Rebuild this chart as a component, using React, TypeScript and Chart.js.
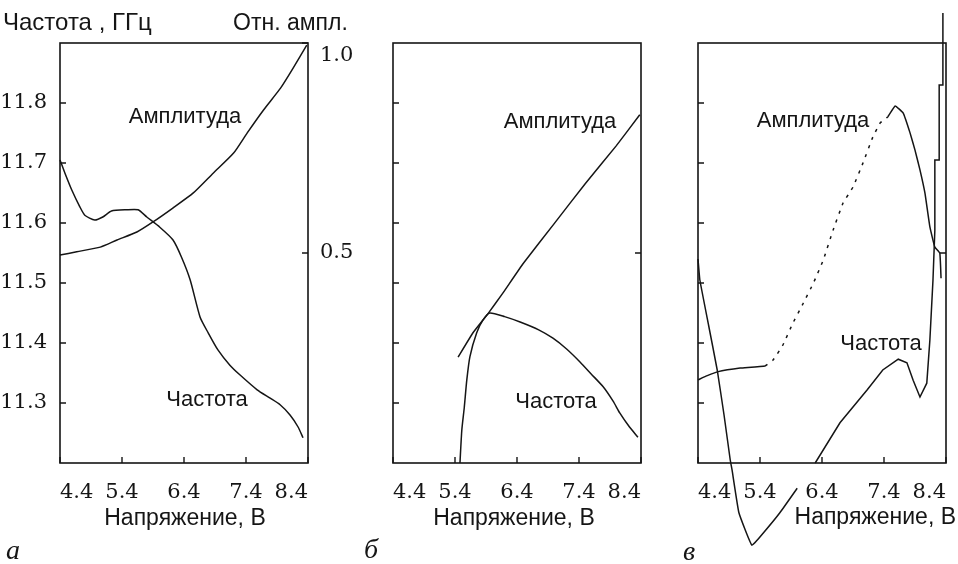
import React, { useEffect, useRef } from 'react';
import { Chart, registerables } from 'chart.js';

Chart.register(...registerables);

// ---------- shared axes ----------
const xTicks = [4.4, 5.4, 6.4, 7.4, 8.4];
const freqTicks = [11.3, 11.4, 11.5, 11.6, 11.7, 11.8];
const ampTicksA = [0.5, 1.0];
const ampTicksBC = [0.5];

// ---------- panel а ----------
const aFreqV = [4.4, 4.48, 4.59, 4.72, 4.8, 4.96, 5.09, 5.23, 5.47, 5.66, 5.8, 6.01, 6.22, 6.36, 6.5, 6.66, 6.79, 6.95, 7.14, 7.3, 7.58, 7.79, 7.95, 8.11, 8.24, 8.32];
const aFreqF = [11.705, 11.683, 11.655, 11.627, 11.613, 11.605, 11.61, 11.62, 11.622, 11.622, 11.61, 11.593, 11.572, 11.543, 11.505, 11.443, 11.417, 11.388, 11.363, 11.347, 11.322, 11.308, 11.297, 11.28, 11.26, 11.242];
const aAmpV = [4.4, 4.67, 5.05, 5.32, 5.64, 5.9, 6.22, 6.55, 6.87, 7.2, 7.42, 7.68, 7.96, 8.16, 8.38];
const aAmpA = [0.495, 0.503, 0.514, 0.531, 0.55, 0.574, 0.607, 0.643, 0.69, 0.738, 0.786, 0.84, 0.893, 0.94, 0.995];

// ---------- panel б ----------
const bFreqV = [5.48, 5.51, 5.55, 5.59, 5.64, 5.75, 5.85, 5.96, 6.2, 6.45, 6.75, 6.98, 7.2, 7.42, 7.6, 7.79, 7.95, 8.06, 8.2, 8.35];
const bFreqF = [11.2, 11.255, 11.293, 11.338, 11.377, 11.417, 11.438, 11.45, 11.444, 11.435, 11.422, 11.408, 11.39, 11.368, 11.348, 11.327, 11.303, 11.283, 11.262, 11.243];
const bAmpV = [5.45, 5.69, 5.93, 6.16, 6.5, 7.0, 7.5, 8.0, 8.38];
const bAmpA = [0.252, 0.31, 0.355, 0.402, 0.475, 0.57, 0.665, 0.755, 0.829];

// ---------- panel в ----------
const cFreq1V = [4.4, 4.43, 4.57, 4.71, 4.82, 4.92, 4.95, 5.06, 5.27, 5.45, 5.72, 6.0];
const cFreq1F = [11.54, 11.505, 11.43, 11.355, 11.28, 11.205, 11.188, 11.117, 11.063, 11.083, 11.117, 11.158];
const cFreq2V = [6.29, 6.69, 7.13, 7.38, 7.63, 7.77, 7.87, 7.98, 8.09, 8.14, 8.19, 8.22, 8.22, 8.29, 8.29, 8.35, 8.35];
const cFreq2F = [11.2, 11.267, 11.322, 11.355, 11.373, 11.367, 11.338, 11.31, 11.333, 11.405, 11.505, 11.588, 11.705, 11.705, 11.83, 11.83, 11.95];
const cAmpV = [4.4, 4.55, 4.71, 5.08, 5.48, 5.61, 5.77, 5.93, 6.1, 6.26, 6.42, 6.58, 6.74, 6.9, 7.06, 7.22, 7.34, 7.46, 7.58, 7.71, 7.82, 7.9, 7.98, 8.06, 8.14, 8.22, 8.3, 8.32];
const cAmpA = [0.198, 0.208, 0.217, 0.226, 0.231, 0.245, 0.281, 0.333, 0.381, 0.428, 0.483, 0.555, 0.619, 0.657, 0.714, 0.776, 0.81, 0.824, 0.85, 0.833, 0.786, 0.745, 0.698, 0.643, 0.562, 0.514, 0.5, 0.44];
const cAmpDashFrom = 5.48;
const cAmpDashTo = 7.46;

const INK = '#151515';
const SERIF = '"DejaVu Serif", "Liberation Serif", serif';
const ITALIC_SERIF = '"Liberation Serif", "DejaVu Serif", serif';
const SANS = '"Liberation Sans", Arial, sans-serif';

const W = 958;
const H = 564;
const TOP = 43;
const BOTTOM = 463;
const YW = 60;

const pts = (xs: number[], ys: number[]) => xs.map((x, i) => ({ x, y: ys[i] }));

type TextItem = { t: string; x: number; y: number; font: string; align?: CanvasTextAlign };

const decor = (texts: TextItem[]) => ({
  id: 'decor',
  afterDraw(chart: any) {
    const { ctx, chartArea: a, scales } = chart;
    ctx.save();
    ctx.strokeStyle = INK;
    ctx.lineWidth = 1.6;
    ctx.strokeRect(a.left, a.top, a.right - a.left, a.bottom - a.top);
    ctx.lineWidth = 1.4;
    ctx.beginPath();
    scales.x.ticks.forEach((t: any) => {
      const px = scales.x.getPixelForValue(t.value);
      ctx.moveTo(px, a.bottom);
      ctx.lineTo(px, a.bottom - 6);
    });
    scales.y.ticks.forEach((t: any) => {
      const py = scales.y.getPixelForValue(t.value);
      ctx.moveTo(a.left, py);
      ctx.lineTo(a.left + 6, py);
    });
    scales.y2.ticks.forEach((t: any) => {
      const py = scales.y2.getPixelForValue(t.value);
      ctx.moveTo(a.right - 6, py);
      ctx.lineTo(a.right, py);
    });
    ctx.stroke();
    ctx.fillStyle = INK;
    ctx.textBaseline = 'middle';
    texts.forEach((it) => {
      ctx.font = it.font;
      ctx.textAlign = it.align || 'center';
      ctx.fillText(it.t, it.x, it.y);
    });
    ctx.restore();
  },
});

const line = (data: any[], axis: string, extra: any = {}) => ({
  data,
  yAxisID: axis,
  showLine: true,
  pointRadius: 0,
  borderColor: INK,
  borderWidth: 1.5,
  tension: 0.2,
  clip: false,
  ...extra,
});

function makeConfig(p: {
  left: number; right: number; datasets: any[]; yLabels: boolean; ampTicks: number[]; ampLabels: boolean; texts: TextItem[];
}) {
  const y2w = Math.min(50, W - p.right);
  const tickFont = { family: SERIF, size: 21 };
  return {
    type: 'scatter' as const,
    data: { datasets: p.datasets },
    options: {
      responsive: false,
      maintainAspectRatio: false,
      animation: false as const,
      events: [],
      layout: { padding: { left: p.left - YW, right: W - p.right - y2w, top: TOP, bottom: 0 }, autoPadding: false },
      plugins: { legend: { display: false }, tooltip: { enabled: false } },
      scales: {
        x: {
          type: 'linear' as const,
          position: 'bottom' as const,
          min: 4.4,
          max: 8.4,
          afterFit: (s: any) => { s.height = H - BOTTOM; },
          afterBuildTicks: (s: any) => { s.ticks = xTicks.map((v) => ({ value: v })); },
          grid: { display: false },
          border: { display: false },
          ticks: {
            align: 'inner' as const,
            padding: 9,
            color: INK,
            font: tickFont,
            maxRotation: 0,
            autoSkip: false,
            callback: (v: any) => Number(v).toFixed(1),
          },
        },
        y: {
          type: 'linear' as const,
          position: 'left' as const,
          min: 11.2,
          max: 11.9,
          afterFit: (s: any) => { s.width = YW; },
          afterBuildTicks: (s: any) => { s.ticks = freqTicks.map((v) => ({ value: v })); },
          grid: { display: false },
          border: { display: false },
          ticks: {
            display: p.yLabels,
            padding: 5,
            autoSkip: false,
            color: INK,
            font: tickFont,
            callback: (v: any) => Number(v).toFixed(1),
          },
        },
        y2: {
          type: 'linear' as const,
          position: 'right' as const,
          min: 0,
          max: 1,
          afterFit: (s: any) => { s.width = y2w; },
          afterBuildTicks: (s: any) => { s.ticks = p.ampTicks.map((v) => ({ value: v })); },
          grid: { display: false },
          border: { display: false },
          ticks: {
            display: p.ampLabels,
            padding: 4,
            autoSkip: false,
            color: INK,
            font: tickFont,
            callback: (v: any) => (Number(v) === 1 ? ['', '1.0'] : Number(v).toFixed(1)),
          },
        },
      },
    },
    plugins: [decor(p.texts)],
  };
}

const sans = (s: number) => `${s}px ${SANS}`;
const ital = `italic 28px ${ITALIC_SERIF}`;

export default function App() {
  const r1 = useRef<HTMLCanvasElement>(null);
  const r2 = useRef<HTMLCanvasElement>(null);
  const r3 = useRef<HTMLCanvasElement>(null);

  useEffect(() => {
    const charts: Chart[] = [];
    charts.push(
      new Chart(r1.current as HTMLCanvasElement, makeConfig({
        left: 60, right: 308, yLabels: true, ampTicks: ampTicksA, ampLabels: true,
        datasets: [line(pts(aFreqV, aFreqF), 'y'), line(pts(aAmpV, aAmpA), 'y2')],
        texts: [
          { t: 'Частота , ГГц', x: 3, y: 23, font: sans(24), align: 'left' },
          { t: 'Отн. ампл.', x: 233, y: 24, font: sans(23), align: 'left' },
          { t: 'Амплитуда', x: 185, y: 117, font: sans(22) },
          { t: 'Частота', x: 207, y: 400, font: sans(22) },
          { t: 'Напряжение, В', x: 185, y: 519, font: sans(23) },
          { t: 'а', x: 6, y: 552, font: ital, align: 'left' },
        ],
      }) as any)
    );
    charts.push(
      new Chart(r2.current as HTMLCanvasElement, makeConfig({
        left: 393, right: 641, yLabels: false, ampTicks: ampTicksBC, ampLabels: false,
        datasets: [line(pts(bFreqV, bFreqF), 'y'), line(pts(bAmpV, bAmpA), 'y2', { tension: 0.1 })],
        texts: [
          { t: 'Амплитуда', x: 560, y: 122, font: sans(22) },
          { t: 'Частота', x: 556, y: 402, font: sans(22) },
          { t: 'Напряжение, В', x: 514, y: 519, font: sans(23) },
          { t: 'б', x: 364, y: 551, font: ital, align: 'left' },
        ],
      }) as any)
    );
    charts.push(
      new Chart(r3.current as HTMLCanvasElement, makeConfig({
        left: 698, right: 946, yLabels: false, ampTicks: ampTicksBC, ampLabels: false,
        datasets: [
          line(pts(cFreq1V, cFreq1F), 'y', { tension: 0.1 }),
          line(pts(cFreq2V, cFreq2F), 'y', { tension: 0 }),
          line(pts(cAmpV, cAmpA), 'y2', {
            tension: 0.1,
            segment: {
              borderDash: (ctx: any) =>
                ctx.p0.parsed.x >= cAmpDashFrom && ctx.p1.parsed.x <= cAmpDashTo ? [3, 6] : undefined,
            },
          }),
        ],
        texts: [
          { t: 'Амплитуда', x: 813, y: 121, font: sans(22) },
          { t: 'Частота', x: 881, y: 344, font: sans(22) },
          { t: 'Напряжение, В', x: 956, y: 518, font: sans(23), align: 'right' },
          { t: 'в', x: 683, y: 553, font: ital, align: 'left' },
        ],
      }) as any)
    );
    return () => charts.forEach((c) => c.destroy());
  }, []);

  const cs: React.CSSProperties = { position: 'absolute', left: 0, top: 0, width: W, height: H };
  return (
    <div style={{ position: 'fixed', left: 0, top: 0, width: W, height: H, background: '#fff', overflow: 'hidden' }}>
      <canvas ref={r1} width={W} height={H} style={cs} />
      <canvas ref={r2} width={W} height={H} style={cs} />
      <canvas ref={r3} width={W} height={H} style={cs} />
    </div>
  );
}
